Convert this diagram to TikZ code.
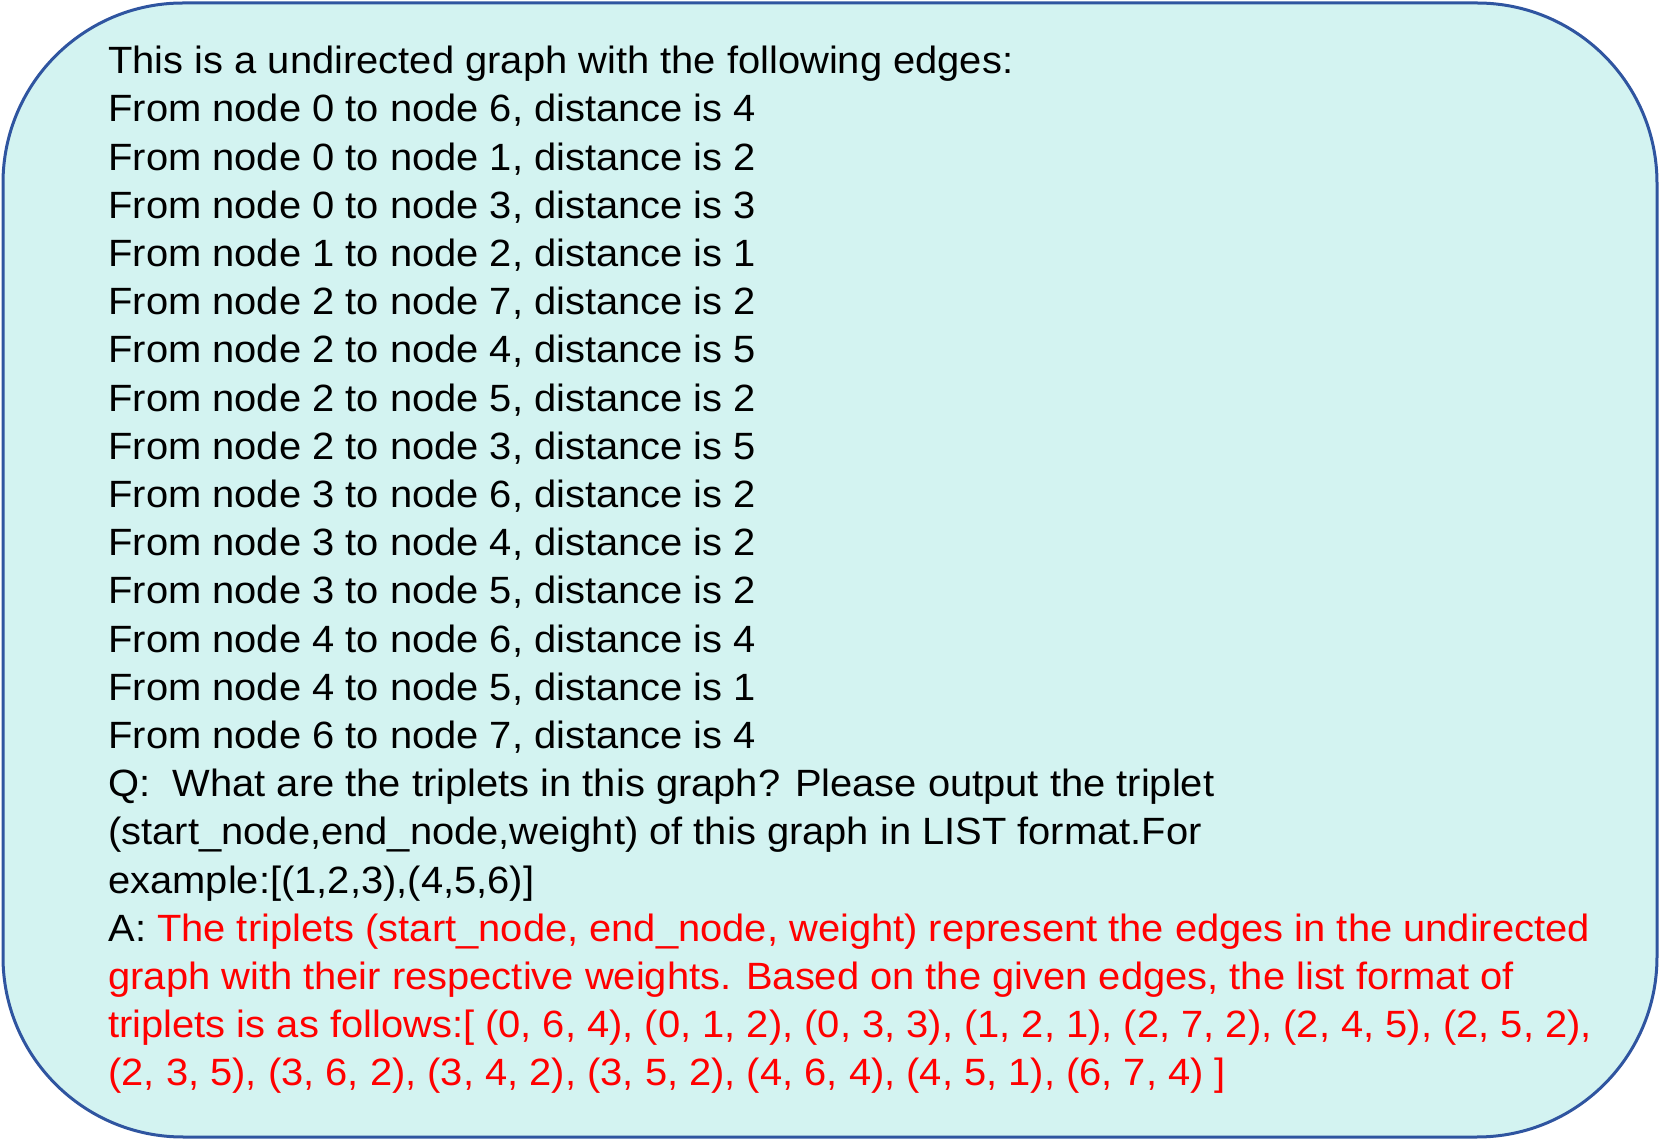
\documentclass[tikz,border=0pt]{standalone}
\usepackage{fontspec}
\setmainfont[FakeStretch=1.05]{Liberation Sans}
\definecolor{boxfill}{RGB}{211,243,241}
\definecolor{boxline}{RGB}{47,85,160}
\definecolor{answer}{RGB}{255,0,0}
\begin{document}
\begin{tikzpicture}[x=1pt, y=1pt,
  panel/.style={draw=boxline, fill=boxfill, line width=1.5pt, rounded corners=90pt},
  prompt/.style={anchor=north west, inner sep=0pt, align=left, font=\fontsize{19pt}{24.1pt}\selectfont}]
\useasboundingbox (0,0) rectangle (831,571);
\draw[panel] (1.5,2.5) rectangle (828.5,569.5);
\node[prompt] (qa) at (54,548.1) {This is a undirected graph with the following edges:\\
From node 0 to node 6, distance is 4\\
From node 0 to node 1, distance is 2\\
From node 0 to node 3, distance is 3\\
From node 1 to node 2, distance is 1\\
From node 2 to node 7, distance is 2\\
From node 2 to node 4, distance is 5\\
From node 2 to node 5, distance is 2\\
From node 2 to node 3, distance is 5\\
From node 3 to node 6, distance is 2\\
From node 3 to node 4, distance is 2\\
From node 3 to node 5, distance is 2\\
From node 4 to node 6, distance is 4\\
From node 4 to node 5, distance is 1\\
From node 6 to node 7, distance is 4\\
Q:\ \ What are the triplets in this graph? Please output the triplet\\
(start\_node,end\_node,weight) of this graph in LIST format.For\\
example:[(1,2,3),(4,5,6)]\\
A: \textcolor{answer}{The triplets (start\_node, end\_node, weight) represent the edges in the undirected}\\
\textcolor{answer}{graph with their respective weights. Based on the given edges, the list format of}\\
\textcolor{answer}{triplets is as follows:[ (0, 6, 4), (0, 1, 2), (0, 3, 3), (1, 2, 1), (2, 7, 2), (2, 4, 5), (2, 5, 2),}\\
\textcolor{answer}{(2, 3, 5), (3, 6, 2), (3, 4, 2), (3, 5, 2), (4, 6, 4), (4, 5, 1), (6, 7, 4) ]}};
\end{tikzpicture}
\end{document}
